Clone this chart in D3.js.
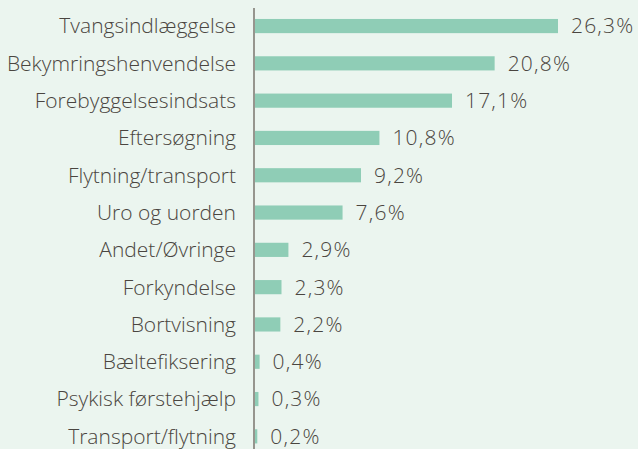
<!DOCTYPE html>
<html>
<head>
<meta charset="utf-8">
<script src="https://cdn.jsdelivr.net/npm/d3@7"></script>
<style>
  body { margin: 0; background: #ebf5ef; }
  svg { display: block; }
  text { font-family: "Open Sans", sans-serif; font-weight: 300; fill: #4a4540; }
</style>
</head>
<body>
<div id="chart"></div>
<script>
const categories = ["Tvangsindlæggelse", "Bekymringshenvendelse", "Forebyggelsesindsats", "Eftersøgning",
  "Flytning/transport", "Uro og uorden", "Andet/Øvringe", "Forkyndelse", "Bortvisning",
  "Bæltefiksering", "Psykisk førstehjælp", "Transport/flytning"];
const values = [26.3, 20.8, 17.1, 10.8, 9.2, 7.6, 2.9, 2.3, 2.2, 0.4, 0.3, 0.2];

const width = 638, height = 449;
const x0 = 254;

const svg = d3.select("#chart")
  .append("svg")
  .attr("width", width)
  .attr("height", height);

const x = d3.scaleLinear()
  .domain([0, 26.3])
  .range([x0 + 1, 558]);

const y = d3.scaleBand()
  .domain(categories)
  .range([7.4, 455])
  .paddingInner(0.62)
  .paddingOuter(0.31);

// bars
svg.append("g")
  .selectAll("rect")
  .data(values)
  .join("rect")
  .attr("x", x(0))
  .attr("y", (d, i) => y(categories[i]))
  .attr("width", d => x(d) - x(0))
  .attr("height", y.bandwidth())
  .attr("fill", "#8fcdb6");

// axis line
svg.append("line")
  .attr("x1", x0).attr("x2", x0)
  .attr("y1", 8).attr("y2", height)
  .attr("stroke", "#7a746e")
  .attr("stroke-width", 1.5);

// category labels
svg.append("g")
  .selectAll("text")
  .data(categories)
  .join("text")
  .attr("x", 236)
  .attr("y", d => y(d) + y.bandwidth() / 2)
  .attr("dy", "0.35em")
  .attr("text-anchor", "end")
  .style("font-size", "21px")
  .text(d => d);

// value labels
svg.append("g")
  .selectAll("text")
  .data(values)
  .join("text")
  .attr("x", d => x(d) + 13)
  .attr("y", (d, i) => y(categories[i]) + y.bandwidth() / 2)
  .attr("dy", "0.35em")
  .style("font-size", "21px")
  .style("letter-spacing", "1.2px")
  .text(d => d.toFixed(1).replace(".", ",") + "%");
</script>
</body>
</html>
